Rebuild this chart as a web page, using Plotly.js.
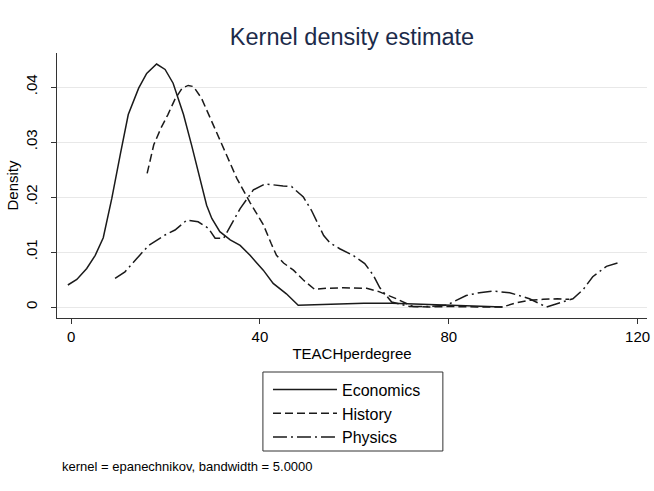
<!DOCTYPE html>
<html>
<head>
<meta charset="utf-8">
<script src="https://cdn.plot.ly/plotly-3.0.1.min.js"></script>
<style>html,body{margin:0;padding:0;background:#fff;}#chart{width:654px;height:491px;}</style>
</head>
<body>
<div id="chart"></div>
<script>
// Economics (solid)
const econX = [-0.7, 1.2, 3.3, 5.1, 6.8, 8.6, 10.4, 12.1, 14.3, 16.0, 18.1, 19.9, 21.6, 23.8, 25.5, 27.3, 28.7, 29.8, 31.5, 33.7, 35.8, 37.9, 40.7, 42.8, 45.6, 48.1, 52, 56, 62, 68, 74, 80, 86, 91.4];
const econY = [0.0040, 0.0050, 0.0070, 0.0094, 0.0126, 0.0197, 0.0277, 0.0350, 0.0398, 0.0425, 0.0442, 0.0432, 0.0407, 0.0350, 0.0295, 0.0234, 0.0185, 0.0161, 0.0137, 0.0122, 0.0112, 0.0094, 0.0067, 0.0043, 0.0024, 0.0003, 0.0004, 0.0006, 0.0007, 0.0007, 0.0005, 0.0003, 0.0001, 0.0000];
// History (dashed)
const histX = [16.1, 17.5, 19.0, 20.5, 22.0, 23.5, 24.8, 25.9, 27.6, 29.8, 32.2, 35.1, 37.9, 40.7, 42.4, 43.5, 45.0, 47.1, 49.2, 51.6, 54.0, 57.6, 62.6, 65.2, 68.9, 72.4, 76, 80, 86, 91.4, 94.0, 97.0, 100.0, 103.0, 105.5];
const histY = [0.0243, 0.0295, 0.0325, 0.0350, 0.0378, 0.0398, 0.0403, 0.0401, 0.0380, 0.0337, 0.0289, 0.0234, 0.0190, 0.0150, 0.0115, 0.0094, 0.0080, 0.0067, 0.0049, 0.0032, 0.0034, 0.0035, 0.0034, 0.0028, 0.0015, 0.0001, 0.0000, 0.0001, 0.0000, 0.0000, 0.0007, 0.0012, 0.0014, 0.0015, 0.0014];
// Physics (dash-dot)
const physX = [9.3, 11.4, 13.9, 16.4, 19.9, 22.0, 24.5, 26.9, 29.1, 30.5, 32.3, 33.3, 35.8, 38.6, 41.1, 44.9, 46.7, 49.2, 50.9, 53.5, 54.8, 56.9, 59.7, 62.2, 64.0, 65.4, 67.9, 71.7, 75.5, 79.5, 83.7, 86.5, 89.4, 92.9, 97.1, 100.7, 103.5, 106.3, 108.5, 110.5, 113.4, 116.2];
const physY = [0.0052, 0.0064, 0.0088, 0.0112, 0.0131, 0.0140, 0.0158, 0.0155, 0.0143, 0.0125, 0.0125, 0.0140, 0.0179, 0.0213, 0.0224, 0.0220, 0.0219, 0.0200, 0.0176, 0.0130, 0.0117, 0.0106, 0.0094, 0.0079, 0.0058, 0.0035, 0.0009, 0.0001, 0.0001, 0.0003, 0.0021, 0.0026, 0.0029, 0.0026, 0.0015, 0.0000, 0.0007, 0.0015, 0.0032, 0.0055, 0.0074, 0.0081];

const seriesNames = ["Economics", "History", "Physics"];
const xTickVals = [0, 40, 80, 120];
const xTickText = ["0", "40", "80", "120"];
const yTickVals = [0, 0.01, 0.02, 0.03, 0.04];
const yTickText = ["0", ".01", ".02", ".03", ".04"];

const FONT = "Liberation Sans, Arial, Helvetica, sans-serif";
const LC = "#1a1a1a";

const traces = [
  {x: econX, y: econY, name: seriesNames[0], mode: "lines", line: {color: LC, width: 1.5, dash: "solid"}},
  {x: histX, y: histY, name: seriesNames[1], mode: "lines", line: {color: LC, width: 1.5, dash: "8px,4px"}},
  {x: physX, y: physY, name: seriesNames[2], mode: "lines", line: {color: LC, width: 1.5, dash: "14px,4px,2px,4px"}}
];

const layout = {
  width: 654, height: 491,
  paper_bgcolor: "#ffffff", plot_bgcolor: "#ffffff",
  margin: {l: 57, r: 7, t: 53, b: 173, pad: 0},
  font: {family: FONT, color: "#000", size: 14},
  title: {text: "Kernel density estimate", font: {family: FONT, size: 23.5, color: "#1c2b4a"},
          x: 0.5, xref: "paper", y: 1 - 37/491, yref: "container", yanchor: "middle"},
  showlegend: true,
  legend: {
    x: 0.3576, xanchor: "left", y: -0.206, yanchor: "top",
    borderwidth: 0, bgcolor: "rgba(0,0,0,0)",
    font: {family: FONT, size: 16, color: "#000"},
    itemwidth: 64, tracegroupgap: 0
  },
  shapes: [
    {type: "rect", xref: "paper", yref: "paper", x0: 0.349, x1: 0.654, y0: -0.2038, y1: -0.5019,
     line: {color: "#333", width: 1}, fillcolor: "#fff", layer: "below"}
  ],
  xaxis: {
    range: [-3, 122], tickvals: xTickVals, ticktext: xTickText,
    showgrid: false, zeroline: false, showline: true, linecolor: "#333", linewidth: 1,
    ticks: "outside", ticklen: 5, tickcolor: "#333", tickfont: {size: 15, family: FONT},
    title: {text: "TEACHperdegree", font: {size: 15, family: FONT}, standoff: 4}
  },
  yaxis: {
    range: [-0.002, 0.0462], tickvals: yTickVals, ticktext: yTickText,
    showgrid: true, gridcolor: "#e8e8e8", gridwidth: 1, zeroline: false,
    showline: true, linecolor: "#333", linewidth: 1,
    ticks: "outside", ticklen: 5, tickcolor: "#333", tickangle: -90,
    tickfont: {size: 15, family: FONT}, ticklabelstandoff: 8,
    title: {text: "Density", font: {size: 15, family: FONT}, standoff: 0}
  },
  annotations: [
    {text: "kernel = epanechnikov, bandwidth = 5.0000", xref: "paper", yref: "paper",
     x: 0.005, xanchor: "left", y: -0.562, yanchor: "middle", showarrow: false,
     font: {size: 13, family: FONT, color: "#000"}}
  ]
};

Plotly.newPlot("chart", traces, layout, {displayModeBar: false, staticPlot: true});
</script>
</body>
</html>
